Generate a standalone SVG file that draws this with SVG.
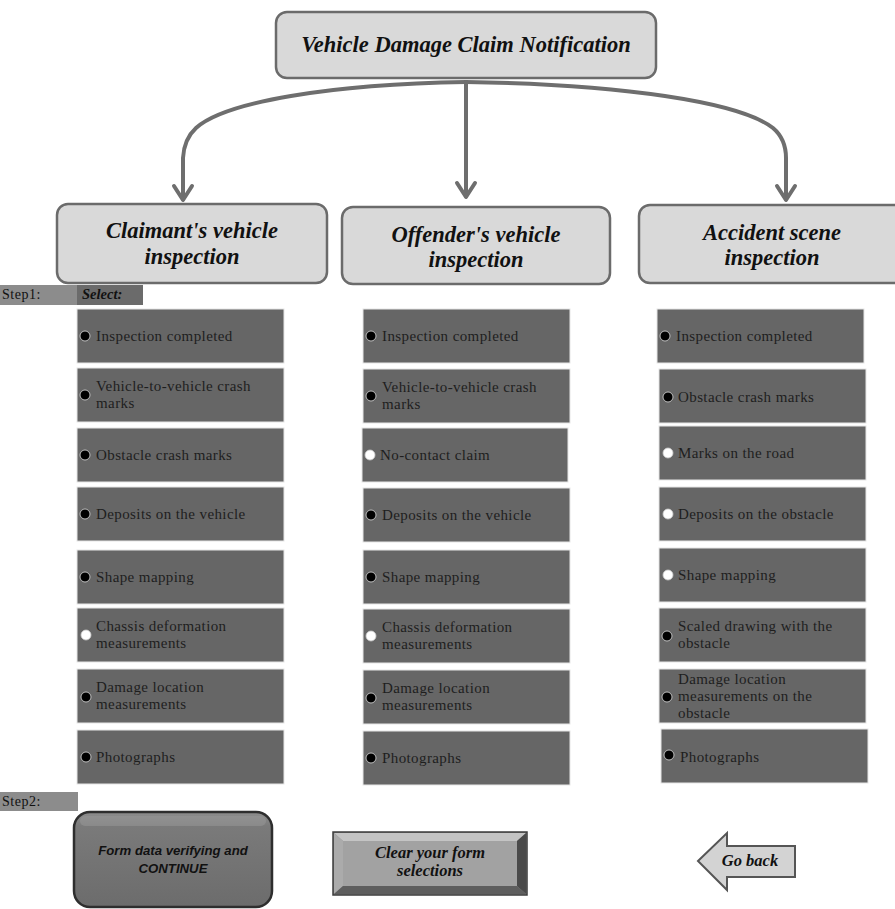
<svg xmlns="http://www.w3.org/2000/svg" width="895" height="909" viewBox="0 0 895 909">
<style>
.hb{fill:#d9d9d9;stroke:#6b6b6b;stroke-width:2.5}
.h{font-family:"Liberation Serif",serif;font-weight:bold;font-style:italic;font-size:22.5px;fill:#111;text-anchor:middle}
.item{fill:#666;stroke:#e6e6e6;stroke-width:1}
.it{font-family:"Liberation Serif",serif;font-size:15px;letter-spacing:0.4px;fill:#1e1e1e}
.db{fill:#000;stroke:#ddd;stroke-width:0.8}
.dw{fill:#fff;stroke:#ccc;stroke-width:0.8}
.conn{fill:none;stroke:#6e6e6e;stroke-width:4;stroke-linecap:round;stroke-linejoin:round}
.band{fill:#8c8c8c}
.step{font-family:"Liberation Serif",serif;font-size:14px;letter-spacing:0.5px;fill:#111}
.btn{font-family:"Liberation Sans",sans-serif;font-weight:bold;font-style:italic;font-size:13.2px;fill:#111;text-anchor:middle}
.bs{font-family:"Liberation Serif",serif;font-weight:bold;font-style:italic;font-size:16.5px;fill:#111;text-anchor:middle}
</style>
<defs>
<linearGradient id="gC" x1="0" y1="0" x2="0" y2="1">
<stop offset="0" stop-color="#8e8e8e"/><stop offset="0.15" stop-color="#7a7a7a"/><stop offset="1" stop-color="#6c6c6c"/>
</linearGradient>
</defs>

<g id="connectors">
<path class="conn" d="M466,82 C330,84 225,102 196,128 Q184,139 183,158 L183,199"/>
<path class="conn" d="M466,82 C620,84 740,102 773,128 Q786,139 786,158 L786,199"/>
<path class="conn" d="M466,82 L466,196"/>
<polyline class="conn" points="174,186 183,200 192,186"/>
<polyline class="conn" points="457,183 466,197 475,183"/>
<polyline class="conn" points="777,186 786,200 795,186"/>
</g>

<g id="n-top">
<rect class="hb" x="276" y="12" width="380" height="66" rx="11" stroke-width="3"/>
<text class="h" x="466" y="52" font-size="22.5">Vehicle Damage Claim Notification</text>
</g>

<g id="n-claimant">
<rect class="hb" x="57" y="204" width="270" height="79" rx="11"/>
<text class="h" x="192" y="238">Claimant's vehicle</text>
<text class="h" x="192" y="264">inspection</text>
</g>
<g id="n-offender">
<rect class="hb" x="342" y="207" width="268" height="77" rx="11"/>
<text class="h" x="476" y="242">Offender's vehicle</text>
<text class="h" x="476" y="267">inspection</text>
</g>
<g id="n-accident">
<rect class="hb" x="639" y="205" width="266" height="78" rx="11"/>
<text class="h" x="772" y="240">Accident scene</text>
<text class="h" x="772" y="265">inspection</text>
</g>

<g id="step1">
<rect class="band" x="0" y="285" width="77" height="20"/>
<rect x="77" y="285" width="66" height="20" fill="#6b6b6b"/>
<text class="step" x="2" y="299">Step1:</text>
<text x="82" y="299" font-family="Liberation Serif,serif" font-weight="bold" font-style="italic" font-size="14.5" fill="#111">Select:</text>
</g>

<g id="col1">
<g id="c1-1"><rect class="item" x="77" y="309" width="207" height="54"/><circle class="db" cx="85" cy="336" r="5"/><text class="it" x="96" y="341">Inspection completed</text></g>
<g id="c1-2"><rect class="item" x="77" y="368" width="207" height="54"/><circle class="db" cx="85" cy="395" r="5"/><text class="it" x="96" y="391">Vehicle-to-vehicle crash</text><text class="it" x="96" y="408">marks</text></g>
<g id="c1-3"><rect class="item" x="77" y="428" width="207" height="54"/><circle class="db" cx="85" cy="455" r="5"/><text class="it" x="96" y="460">Obstacle crash marks</text></g>
<g id="c1-4"><rect class="item" x="77" y="487" width="207" height="54"/><circle class="db" cx="85" cy="514" r="5"/><text class="it" x="96" y="519">Deposits on the vehicle</text></g>
<g id="c1-5"><rect class="item" x="77" y="550" width="207" height="54"/><circle class="db" cx="85" cy="577" r="5"/><text class="it" x="96" y="582">Shape mapping</text></g>
<g id="c1-6"><rect class="item" x="77" y="608" width="207" height="54"/><circle class="dw" cx="86" cy="635" r="5"/><text class="it" x="96" y="631">Chassis deformation</text><text class="it" x="96" y="648">measurements</text></g>
<g id="c1-7"><rect class="item" x="77" y="669" width="207" height="54"/><circle class="db" cx="86" cy="697" r="5"/><text class="it" x="96" y="692">Damage location</text><text class="it" x="96" y="709">measurements</text></g>
<g id="c1-8"><rect class="item" x="77" y="730" width="207" height="54"/><circle class="db" cx="86" cy="757" r="5"/><text class="it" x="96" y="762">Photographs</text></g>
</g>

<g id="col2">
<g id="c2-1"><rect class="item" x="363" y="309" width="207" height="54"/><circle class="db" cx="371" cy="336" r="5"/><text class="it" x="382" y="341">Inspection completed</text></g>
<g id="c2-2"><rect class="item" x="363" y="369" width="207" height="54"/><circle class="db" cx="371" cy="396" r="5"/><text class="it" x="382" y="392">Vehicle-to-vehicle crash</text><text class="it" x="382" y="409">marks</text></g>
<g id="c2-3"><rect class="item" x="362" y="428" width="206" height="54"/><circle class="dw" cx="370" cy="455" r="5"/><text class="it" x="380" y="460">No-contact claim</text></g>
<g id="c2-4"><rect class="item" x="363" y="488" width="207" height="54"/><circle class="db" cx="371" cy="515" r="5"/><text class="it" x="382" y="520">Deposits on the vehicle</text></g>
<g id="c2-5"><rect class="item" x="363" y="550" width="207" height="54"/><circle class="db" cx="371" cy="577" r="5"/><text class="it" x="382" y="582">Shape mapping</text></g>
<g id="c2-6"><rect class="item" x="363" y="609" width="207" height="54"/><circle class="dw" cx="371" cy="636" r="5"/><text class="it" x="382" y="632">Chassis deformation</text><text class="it" x="382" y="649">measurements</text></g>
<g id="c2-7"><rect class="item" x="363" y="670" width="207" height="54"/><circle class="db" cx="371" cy="698" r="5"/><text class="it" x="382" y="693">Damage location</text><text class="it" x="382" y="710">measurements</text></g>
<g id="c2-8"><rect class="item" x="363" y="731" width="207" height="54"/><circle class="db" cx="371" cy="758" r="5"/><text class="it" x="382" y="763">Photographs</text></g>
</g>

<g id="col3">
<g id="c3-1"><rect class="item" x="657" y="309" width="207" height="54"/><circle class="db" cx="665" cy="336" r="5"/><text class="it" x="676" y="341">Inspection completed</text></g>
<g id="c3-2"><rect class="item" x="659" y="369" width="207" height="54"/><circle class="db" cx="668" cy="397" r="5"/><text class="it" x="678" y="402">Obstacle crash marks</text></g>
<g id="c3-3"><rect class="item" x="659" y="426" width="207" height="54"/><circle class="dw" cx="668" cy="453" r="5"/><text class="it" x="678" y="458">Marks on the road</text></g>
<g id="c3-4"><rect class="item" x="659" y="487" width="207" height="54"/><circle class="dw" cx="668" cy="514" r="5"/><text class="it" x="678" y="519">Deposits on the obstacle</text></g>
<g id="c3-5"><rect class="item" x="659" y="548" width="207" height="54"/><circle class="dw" cx="668" cy="575" r="5"/><text class="it" x="678" y="580">Shape mapping</text></g>
<g id="c3-6"><rect class="item" x="659" y="608" width="207" height="54"/><circle class="db" cx="667" cy="636" r="5"/><text class="it" x="678" y="631">Scaled drawing with the</text><text class="it" x="678" y="648">obstacle</text></g>
<g id="c3-7"><rect class="item" x="659" y="669" width="207" height="54"/><circle class="db" cx="667" cy="697" r="5"/><text class="it" x="678" y="684">Damage location</text><text class="it" x="678" y="701">measurements on the</text><text class="it" x="678" y="718">obstacle</text></g>
<g id="c3-8"><rect class="item" x="661" y="729" width="207" height="54"/><circle class="db" cx="669" cy="755" r="5"/><text class="it" x="680" y="762">Photographs</text></g>
</g>

<g id="step2">
<rect class="band" x="0" y="792" width="78" height="19"/>
<text class="step" x="2" y="806">Step2:</text>
</g>

<g id="btn-continue">
<rect x="74" y="812" width="198" height="95" rx="16" fill="url(#gC)" stroke="#2e2e2e" stroke-width="2.5"/>
<rect x="80" y="816" width="186" height="10" rx="5" fill="#9a9a9a" opacity="0.5"/>
<text class="btn" x="173" y="855">Form data verifying and</text>
<text class="btn" x="173" y="873">CONTINUE</text>
</g>

<g id="btn-clear">
<rect x="333" y="832" width="194" height="63" fill="#8a8a8a" stroke="#3c3c3c" stroke-width="1.5"/>
<polygon points="334,833 526,833 517,841 343,841" fill="#c4c4c4"/>
<polygon points="334,833 343,841 343,886 334,894" fill="#ababab"/>
<polygon points="526,833 526,894 517,886 517,841" fill="#4a4a4a"/>
<polygon points="334,894 343,886 517,886 526,894" fill="#5e5e5e"/>
<rect x="343" y="841" width="174" height="45" fill="#a2a2a2"/>
<text class="bs" x="430" y="858">Clear  your form</text>
<text class="bs" x="430" y="876">selections</text>
</g>

<g id="btn-back">
<polygon points="698,861 727,833 727,846 795,846 795,877 727,877 727,890" fill="#d3d3d3" stroke="#555" stroke-width="2" stroke-linejoin="miter"/>
<text class="bs" x="750" y="866">Go back</text>
</g>
</svg>
